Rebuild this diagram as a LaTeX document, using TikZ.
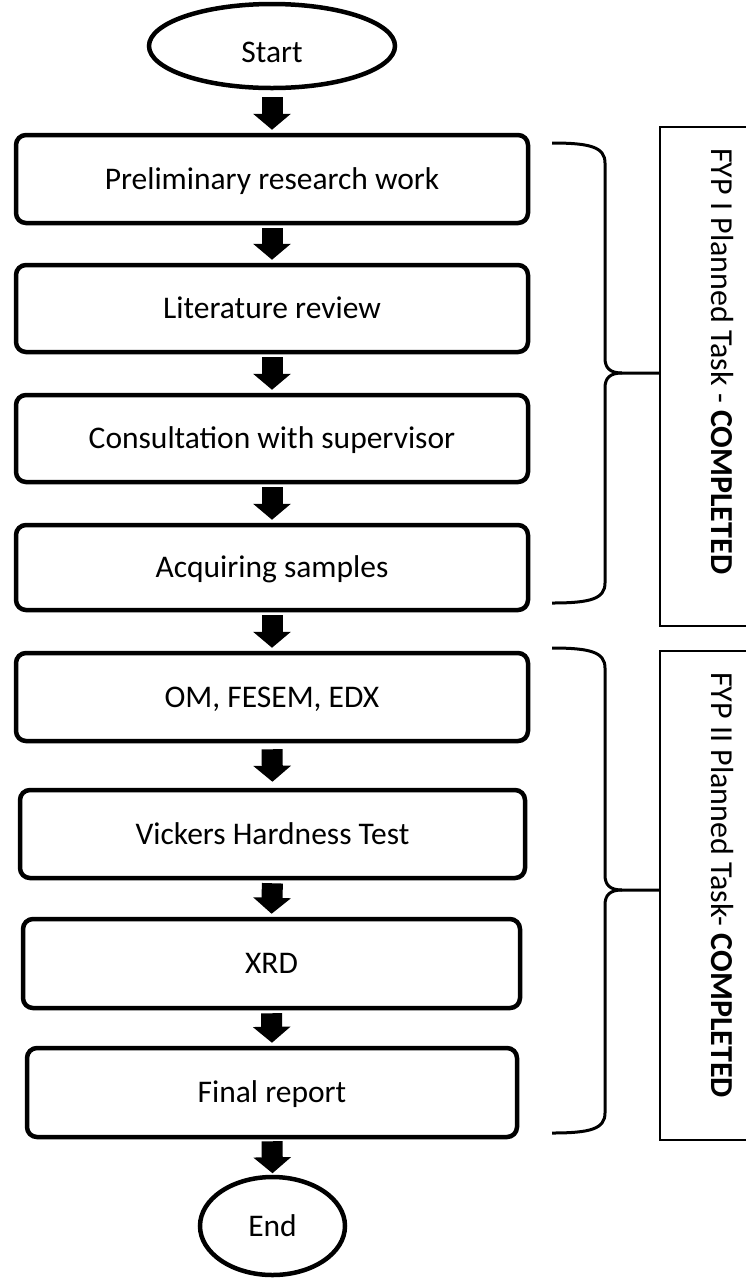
\documentclass[tikz,border=0pt]{standalone}
\usepackage{fontspec}
\setmainfont{Carlito}
\usetikzlibrary{arrows.meta,shapes.geometric}
\begin{document}
\begin{tikzpicture}[x=1pt,y=-1pt,
  stepbox/.style={draw, line width=4.5pt, rounded corners=10pt, inner sep=0pt,
    text height=20pt, text depth=0pt, font=\fontsize{31.5}{36}\selectfont},
  term/.style={draw, ellipse, line width=4.5pt, inner sep=0pt,
    text height=20pt, text depth=0pt, font=\fontsize{31.5}{36}\selectfont},
  conn/.style={line width=21pt, -{Triangle[length=16pt,width=37pt]},
    shorten <=3pt, shorten >=3pt},
  bracepath/.style={line width=3pt},
  labelbox/.style={draw, line width=2pt, inner sep=0pt},
  labeltext/.style={rotate=-90, anchor=west, inner sep=0pt,
    text height=20pt, text depth=0pt, font=\fontsize{32}{36}\selectfont}
]
\useasboundingbox (0,0) rectangle (745,1278);

% terminals
\node[term, minimum width=246pt, minimum height=84pt, text height=32pt] (s) at (272,46) {Start};
\node[term, minimum width=145pt, minimum height=98pt] (e) at (272.5,1226) {End};

% process boxes
\node[stepbox, minimum width=512pt, minimum height=88pt] (b1) at (272,179) {Preliminary research work};
\node[stepbox, minimum width=512pt, minimum height=87pt] (b2) at (272,308.5) {Literature review};
\node[stepbox, minimum width=512pt, minimum height=87pt] (b3) at (272,438.5) {Consultation with supervisor};
\node[stepbox, minimum width=512pt, minimum height=85pt] (b4) at (272,567.5) {Acquiring samples};
\node[stepbox, minimum width=512pt, minimum height=88pt] (b5) at (272,697) {OM, FESEM, EDX};
\node[stepbox, minimum width=505pt, minimum height=88pt] (b6) at (272.5,834) {Vickers Hardness Test};
\node[stepbox, minimum width=497pt, minimum height=89pt] (b7) at (271.5,963.5) {XRD};
\node[stepbox, minimum width=490pt, minimum height=89pt] (b8) at (272,1092.5) {Final report};

% block arrows
\draw[conn, shorten <=7pt] (s.south) -- (b1.north);
\draw[conn] (b1.south) -- (b2.north);
\draw[conn] (b2.south) -- (b3.north);
\draw[conn] (b3.south) -- (b4.north);
\draw[conn] (b4.south) -- (b5.north);
\draw[conn, shorten <=6pt, shorten >=6pt] (b5.south) -- (b6.north);
\draw[conn] (b6.south) -- (b7.north);
\draw[conn] (b7.south) -- (b8.north);
\draw[conn, shorten <=2pt, shorten >=1.5pt] (b8.south) -- (e.north);

% label boxes (cut off at the right edge)
\node[labelbox, minimum width=110pt, minimum height=499pt] (l1) at (715,376.5) {};
\node[labelbox, minimum width=110pt, minimum height=489pt] (l2) at (715,895.5) {};
\node[labeltext] (t1) at (721,148) {FYP I Planned Task - \textbf{COMPLETED}};
\node[labeltext] (t2) at (721,672) {FYP II Planned Task- \textbf{COMPLETED}};

% braces
\coordinate (k1) at (622,373);
\coordinate (k2) at (622,890);
\draw[bracepath] (552,143) .. controls (590,143) and (605,147) .. (605,163)
  -- (605,358) .. controls (605,368) and (610,373) .. (k1) -- (k1 -| l1.west);
\draw[bracepath] (k1) .. controls (610,373) and (605,378) .. (605,388)
  -- (605,583) .. controls (605,599) and (590,603) .. (552,603);
\draw[bracepath] (552,648) .. controls (590,648) and (605,652) .. (605,668)
  -- (605,875) .. controls (605,885) and (610,890) .. (k2) -- (k2 -| l2.west);
\draw[bracepath] (k2) .. controls (610,890) and (605,895) .. (605,905)
  -- (605,1113) .. controls (605,1129) and (590,1133) .. (552,1133);
\end{tikzpicture}
\end{document}
